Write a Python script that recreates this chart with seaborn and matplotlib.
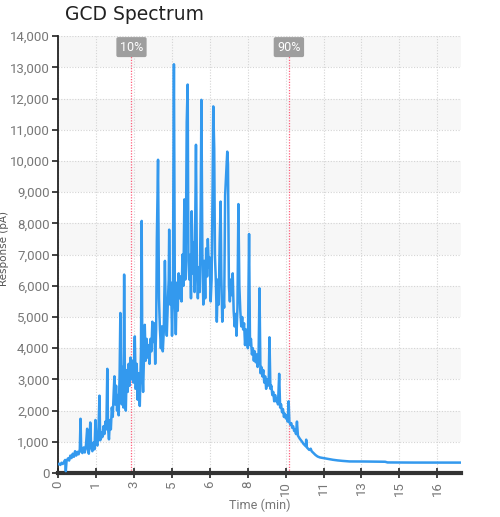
import matplotlib
matplotlib.use("Agg")
import matplotlib.pyplot as plt
import seaborn as sns
import pandas as pd
from matplotlib.ticker import StrMethodFormatter

# ---------------- data ----------------
time_min = [
    0.00, 0.05, 0.10, 0.15, 0.20, 0.25, 0.30, 0.33, 0.36, 0.42, 0.47, 0.52, 0.57, 0.62, 0.67, 0.72,
    0.77, 0.82, 0.87, 0.92, 0.95, 0.98, 1.03, 1.08, 1.13, 1.18, 1.23, 1.26, 1.30, 1.33, 1.36, 1.40,
    1.45, 1.50, 1.54, 1.58, 1.62, 1.66, 1.70, 1.75, 1.78, 1.83, 1.87, 1.92, 1.96, 2.00, 2.04, 2.08,
    2.11, 2.15, 2.19, 2.23, 2.27, 2.31, 2.35, 2.38, 2.41, 2.45, 2.49, 2.53, 2.56, 2.60, 2.63, 2.66,
    2.69, 2.73, 2.76, 2.79, 2.82, 2.86, 2.90, 2.94, 2.98, 3.02, 3.06, 3.10, 3.14, 3.18, 3.24, 3.28,
    3.32, 3.36, 3.40, 3.45, 3.50, 3.53, 3.56, 3.59, 3.63, 3.66, 3.70, 3.74, 3.78, 3.82, 3.86, 3.90,
    3.94, 3.98, 4.02, 4.06, 4.10, 4.14, 4.17, 4.22, 4.26, 4.30, 4.34, 4.38, 4.42, 4.46, 4.51, 4.55,
    4.59, 4.63, 4.67, 4.69, 4.73, 4.77, 4.81, 4.85, 4.87, 4.89, 4.93, 4.97, 5.01, 5.05, 5.09, 5.13,
    5.17, 5.21, 5.25, 5.29, 5.33, 5.37, 5.40, 5.43, 5.47, 5.50, 5.54, 5.58, 5.61, 5.64, 5.68, 5.72,
    5.76, 5.79, 5.82, 5.86, 5.90, 5.94, 5.98, 6.02, 6.05, 6.09, 6.13, 6.17, 6.21, 6.25, 6.29, 6.32,
    6.36, 6.40, 6.44, 6.48, 6.52, 6.55, 6.59, 6.62, 6.66, 6.70, 6.74, 6.78, 6.82, 6.86, 6.89, 6.93,
    6.97, 7.01, 7.05, 7.09, 7.14, 7.17, 7.21, 7.25, 7.29, 7.33, 7.37, 7.41, 7.45, 7.49, 7.53, 7.57,
    7.61, 7.65, 7.69, 7.73, 7.77, 7.81, 7.85, 7.89, 7.93, 7.97, 8.01, 8.06, 8.10, 8.14, 8.18, 8.22,
    8.26, 8.30, 8.34, 8.38, 8.42, 8.46, 8.50, 8.54, 8.58, 8.62, 8.66, 8.70, 8.74, 8.78, 8.82, 8.86,
    8.89, 8.92, 8.96, 9.00, 9.04, 9.08, 9.12, 9.16, 9.20, 9.24, 9.28, 9.33, 9.37, 9.41, 9.45, 9.49,
    9.53, 9.57, 9.61, 9.65, 9.69, 9.73, 9.76, 9.80, 9.84, 9.88, 9.92, 9.96, 10.00, 10.04, 10.08, 10.12,
    10.16, 10.20, 10.25, 10.30, 10.35, 10.40, 10.45, 10.47, 10.50, 10.55, 10.60, 10.66, 10.70, 10.78,
    10.86, 10.95, 11.05, 11.20, 11.40, 11.60, 11.80, 12.00, 12.30, 12.60, 12.90, 13.20, 13.50, 13.80,
    13.90, 14.20, 14.60, 15.00, 15.50, 16.00, 16.50, 17.00,
]
response_pa = [
    280, 300, 260, 330, 290, 350, 420, 60, 380, 470, 400, 560, 480, 620, 520, 700,
    560, 680, 600, 760, 1740, 700, 640, 820, 660, 900, 1420, 760, 620, 980, 1620, 820,
    700, 980, 760, 1700, 1000, 880, 1200, 2480, 1050, 1300, 1150, 1500, 1250, 1650, 1400, 3340,
    1450, 1080, 1700, 1400, 2100, 1800, 2600, 3100, 2200, 2800, 2000, 2500, 1850, 3200, 5130, 3000,
    2200, 3400, 2100, 6360, 3200, 2000, 3300, 2600, 3500, 2800, 3700, 3000, 3600, 2900, 4380, 2700,
    3500, 2350, 3200, 2150, 3900, 8080, 3200, 2600, 3900, 4750, 3600, 4300, 3700, 4100, 3500, 4300,
    3900, 4850, 4200, 4800, 3500, 4600, 7500, 10040, 5600, 4600, 4000, 4700, 3900, 4500, 6800, 5000,
    4400, 5400, 6200, 7800, 5400, 6100, 4400, 5800, 10000, 13100, 5600, 4450, 6100, 5200, 6400, 5600,
    6300, 5500, 7000, 6000, 8770, 6200, 7900, 11240, 12450, 6800, 6200, 7000, 5600, 8390, 6400, 7400,
    5800, 8300, 10520, 6500, 5600, 6600, 5800, 8600, 11960, 7000, 5400, 6800, 5600, 7200, 6300, 7500,
    6600, 6900, 5500, 6200, 9000, 11750, 10400, 7000, 6100, 4850, 6200, 5400, 7400, 8700, 6300, 4850,
    5600, 5300, 8900, 9500, 10300, 9900, 6000, 5500, 6200, 5700, 6400, 5200, 4700, 5100, 4400, 5300,
    8620, 6000, 5200, 4700, 5000, 4600, 4800, 4100, 4600, 4400, 4000, 7660, 4100, 4300, 3800, 4000,
    3600, 3900, 3550, 3800, 3400, 3700, 5920, 3200, 3400, 3100, 3300, 2900, 3100, 2700, 3000, 2800,
    3000, 4350, 2700, 2800, 2500, 2600, 2300, 2500, 2300, 2400, 2200, 3180, 2100, 2200, 1950, 2050,
    1800, 1900, 1750, 1850, 1650, 2300, 1650, 1550, 1600, 1450, 1500, 1350, 1400, 1250, 1650, 1200,
    1150, 1100, 1050, 1000, 940, 900, 860, 1070, 820, 780, 740, 780, 700, 640,
    580, 530, 500, 480, 450, 425, 405, 390, 372, 372, 370, 368, 365, 362,
    340, 338, 338, 336, 336, 335, 335, 335,
]
x_tick_values = [0, 1.6, 3.2, 4.8, 6.4, 8.0, 9.6, 11.2, 12.8, 14.4, 16.0]
x_tick_labels = ["0", "1", "3", "5", "6", "8", "10", "11", "13", "15", "16"]
percent_marks = [3.10, 9.74]
percent_labels = ["10%", "90%"]

df = pd.DataFrame({"Time (min)": time_min, "Response (pA)": response_pa})

# ---------------- figure ----------------
sns.set_theme(style="white")
plt.rcParams["font.family"] = ["DejaVu Sans"]

fig = plt.figure(figsize=(5.0, 5.17), dpi=100)
ax = fig.add_axes([0.116, 0.085, 0.806, 0.845])
ax.set_facecolor("white")

# alternating bands
for lo in range(1000, 14000, 2000):
    ax.axhspan(lo, lo + 1000, color="#f7f7f7", zorder=0, lw=0)

ax.set_xlim(0, 17.0)
ax.set_ylim(0, 14000)

ax.grid(True, which="major", axis="both", color="#d4d4d4", linestyle=(0, (1, 1.5)), linewidth=0.8, zorder=1)
ax.set_axisbelow(True)

for xm in percent_marks:
    ax.axvline(xm, color="#ff4466", linestyle=(0, (1, 1.2)), linewidth=0.9, alpha=0.85, zorder=2)

sns.lineplot(data=df, x="Time (min)", y="Response (pA)", ax=ax, color="#3399ee",
             linewidth=1.8, estimator=None, sort=True, zorder=3)

for xm, lab in zip(percent_marks, percent_labels):
    ax.text(xm, 13650, lab, ha="center", va="center", fontsize=9, color="white",
            bbox=dict(boxstyle="round,pad=0.28,rounding_size=0.15", fc="#9e9e9e", ec="none"),
            zorder=5, family=["Roboto", "DejaVu Sans"])

ax.set_yticks(range(0, 14001, 1000))
ax.yaxis.set_major_formatter(StrMethodFormatter("{x:,.0f}"))
ax.set_xticks(x_tick_values)
ax.set_xticklabels(x_tick_labels, rotation=90)

for lab in ax.get_yticklabels():
    lab.set_family(["Roboto", "DejaVu Sans"])
for lab in ax.get_xticklabels():
    lab.set_family(["Roboto", "DejaVu Sans"])

ax.tick_params(axis="y", which="major", direction="out", length=4, width=1.2, color="#222222",
               labelsize=9.5, labelcolor="#777777", left=True, pad=2)
ax.tick_params(axis="x", which="major", direction="inout", length=7, width=1.2, color="#222222",
               labelsize=9.5, labelcolor="#777777", bottom=True, pad=2)

for side in ["top", "right"]:
    ax.spines[side].set_visible(False)
ax.spines["left"].set_color("#222222")
ax.spines["left"].set_linewidth(1.3)
ax.spines["bottom"].set_color("#333333")
ax.spines["bottom"].set_linewidth(3)

ax.set_xlabel("Time (min)", fontsize=9, color="#777777", labelpad=2, family=["Roboto", "DejaVu Sans"])
ax.set_ylabel("")
fig.text(0.008, 0.52, "Response (pA)", rotation=90, ha="center", va="center", fontsize=7.5, color="#555555")

fig.text(0.13, 0.972, "GCD Spectrum", ha="left", va="center", fontsize=13.5, color="#222222")

fig.savefig("out.png", dpi=100)
